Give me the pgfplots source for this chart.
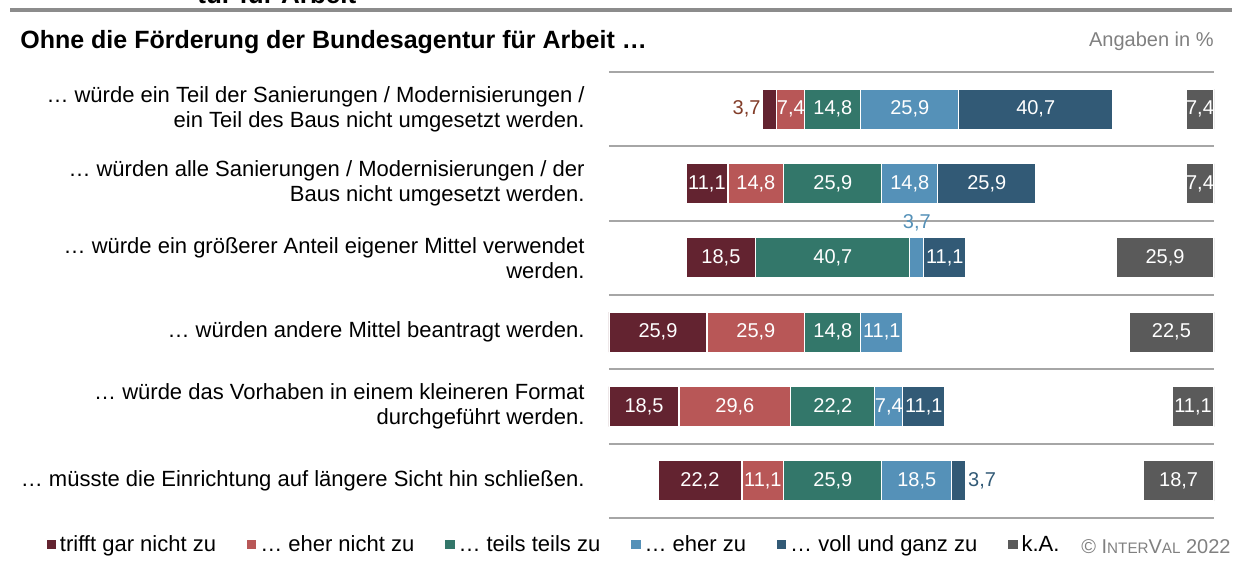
\documentclass[border=0pt]{standalone}
\usepackage{pgfplots}
\usepackage{pgfplotstable}
\pgfplotsset{compat=1.18}
\usepackage{fontspec}
\setmainfont{Liberation Sans}
\definecolor{cA}{HTML}{632330}
\definecolor{cB}{HTML}{B85757}
\definecolor{cC}{HTML}{33776A}
\definecolor{cD}{HTML}{5591B8}
\definecolor{cE}{HTML}{325A76}
\definecolor{cK}{HTML}{5A5A5A}
\definecolor{sepgray}{HTML}{A6A6A6}

% off = left gap, a..e = answers, sp = gap before k.A., ka = k.A.
\pgfplotstableread{
y off a b c d e sp ka
1 40.7 3.7 7.4 14.8 25.9 40.7 19.4 7.4
2 20.35 11.1 14.8 25.9 14.8 25.9 39.75 7.4
3 20.35 18.5 0 40.7 3.7 11.1 39.75 25.9
4 0 25.9 25.9 14.8 11.1 0 59.8 22.5
5 0 18.5 29.6 22.2 7.4 11.1 60.1 11.1
6 12.95 22.2 11.1 25.9 18.5 3.7 46.95 18.7
}\data

\begin{document}
\begin{tikzpicture}
\useasboundingbox (0,0) rectangle (619.5pt,283.5pt);
\node[anchor=base west, font=\bfseries\fontsize{13}{15}\selectfont, inner sep=0pt] at (98.5pt,281.5pt) {tur für Arbeit};
\draw[color=gray!90, line width=2pt] (5pt,278.5pt) -- (616pt,278.5pt);
\node[anchor=base west, font=\bfseries\fontsize{12.5}{15}\selectfont, inner sep=0pt] at (10pt,259pt) {Ohne die Förderung der Bundesagentur für Arbeit …};
\node[anchor=base east, font=\fontsize{10}{12}\selectfont, text=gray, inner sep=0pt] at (607pt,260pt) {Angaben in \%};
\begin{axis}[
  at={(304.5pt,24.5pt)}, anchor=south west,
  scale only axis, width=302.5pt, height=223pt,
  xbar stacked, bar width=20pt,
  xmin=0, xmax=160, ymin=0.5, ymax=6.5, y dir=reverse,
  axis line style={draw=none},
  major tick length=0pt, minor tick length=0pt,
  xtick=\empty,
  ytick={1,2,3,4,5,6},
  minor ytick={0.5,1.5,2.5,3.5,4.5,5.5,6.5},
  yminorgrids=true,
  minor grid style={draw=sepgray, line width=1pt},
  yticklabels={
    {… würde ein Teil der Sanierungen / Modernisierungen /\\ein Teil des Baus nicht umgesetzt werden.},
    {… würden alle Sanierungen / Modernisierungen / der\\Baus nicht umgesetzt werden.},
    {… würde ein größerer Anteil eigener Mittel verwendet\\werden.},
    {… würden andere Mittel beantragt werden.},
    {… würde das Vorhaben in einem kleineren Format\\durchgeführt werden.},
    {… müsste die Einrichtung auf längere Sicht hin schließen.}},
  yticklabel style={align=right, font=\fontsize{11}{12.5}\selectfont, inner sep=0pt, xshift=-12pt},
  every axis plot/.append style={draw=white, line width=0.6pt},
  lbl/.style={
    visualization depends on={rawx \as \rawx},
    nodes near coords={\pgfmathparse{\rawx<5?0:1}\ifnum\pgfmathresult=1 \pgfmathprintnumber[fixed,fixed zerofill,precision=1,use comma,assume math mode=true]{\rawx}\fi},
    every node near coord/.append style={text=white, font=\fontsize{10}{12}\selectfont}},
  legend columns=8,
  legend style={draw=none, at={(-0.93,-0.06)}, anchor=west, inner sep=0pt,
    font=\fontsize{11}{12.5}\selectfont,
    /tikz/every even column/.append style={column sep=13.5pt}},
  legend image code/.code={\fill[#1, draw=none] (0pt,-2.3pt) rectangle (4.6pt,2.3pt);},
]
\addplot[draw=none, fill=none] table[x=off, y=y] {\data};
\addplot[fill=cA, lbl] table[x=a, y=y] {\data};
\addplot[fill=cB, lbl] table[x=b, y=y] {\data};
\addplot[fill=cC, lbl] table[x=c, y=y] {\data};
\addplot[fill=cD, lbl] table[x=d, y=y] {\data};
\addplot[fill=cE, lbl] table[x=e, y=y] {\data};
\addplot[draw=none, fill=none] table[x=sp, y=y] {\data};
\addplot[fill=cK, lbl] table[x=ka, y=y] {\data};
\legend{,trifft gar nicht zu, … eher nicht zu, … teils teils zu, … eher zu, … voll und ganz zu,, k.A.}
\node[anchor=east, text={rgb,255:red,130;green,60;blue,40}, font=\fontsize{10}{12}\selectfont, inner sep=1pt] at (axis cs:40.7,1) {3,7};
\node[text=cD, font=\fontsize{10}{12}\selectfont, inner sep=0pt] at (axis cs:81.4,2.53) {3,7};
\node[anchor=west, text=cE, font=\fontsize{10}{12}\selectfont, inner sep=1pt] at (axis cs:94.35,6) {3,7};
\end{axis}
\node[anchor=base east, text=gray, inner sep=0pt, font=\fontsize{10}{12}\selectfont] at (615.5pt,6.5pt) {© I{\fontsize{7.6}{9}\selectfont NTER}V{\fontsize{7.6}{9}\selectfont AL} 2022};
\end{tikzpicture}
\end{document}
